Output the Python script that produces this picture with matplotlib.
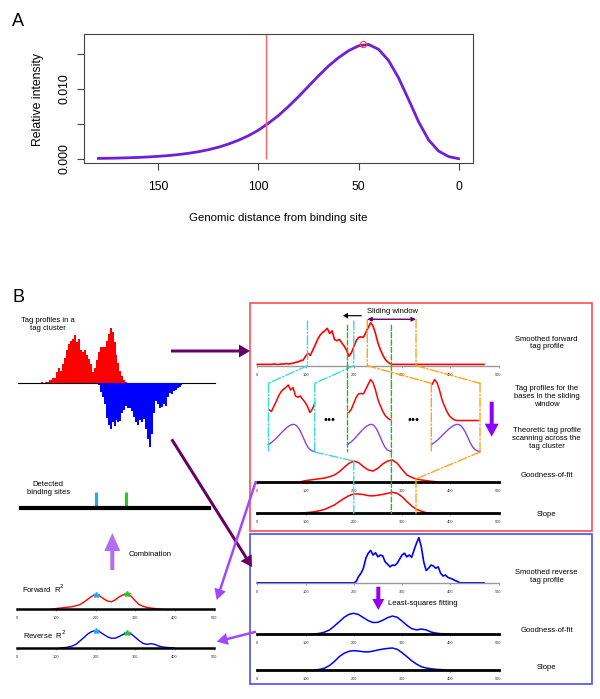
import numpy as np
import matplotlib
matplotlib.use("Agg")
import matplotlib.pyplot as plt
from matplotlib.patches import Rectangle, ConnectionPatch

plt.rcParams['font.family'] = ['Liberation Sans', 'DejaVu Sans']

# ---------------- data ----------------
# panel A: theoretic tag profile
dist = np.arange(180, -1, -5)
intensity = [0.00004, 0.00006, 0.00009, 0.00013, 0.00018, 0.00025, 0.00034, 0.00045,
             0.00059, 0.00077, 0.001, 0.00129, 0.00165, 0.0021, 0.00265, 0.0033,
             0.0041, 0.0051, 0.0062, 0.0075, 0.0089, 0.0104, 0.0119, 0.0133,
             0.0145, 0.0155, 0.0162, 0.0164, 0.0157, 0.0141, 0.0116, 0.0085,
             0.0053, 0.0027, 0.0011, 0.0003, 0.0]
peak_dist, peak_value = 48, 0.0164
cut_dist = 96

# panel B: tag profiles along the cluster (position 0..470, step 5)
pos = np.arange(0, 475, 5)
fwd_profile = [3, 3, 3, 3, 3, 3, 3, 4, 3, 3,
               4, 4, 5, 4, 5, 6, 8, 9, 12, 13,
               22, 29, 24, 36, 48, 61, 71, 77, 81, 87,
               75, 81, 61, 58, 61, 53, 46, 36, 22, 30,
               44, 58, 66, 67, 66, 77, 89, 100, 92, 75,
               53, 38, 25, 15, 9, 5, 3, 3, 3, 3,
               3, 3, 3, 3, 3, 3, 3, 3, 3, 3,
               3, 3, 3, 3, 3, 3, 3, 3, 3, 3,
               3, 3, 3, 3, 3, 3, 3, 3, 3, 3,
               3, 3, 3, 3, 3]
rev_profile = [1, 1, 1, 1, 1, 1, 1, 1, 1, 1,
               1, 1, 1, 1, 1, 1, 1, 1, 1, 1,
               1, 1, 1, 1, 1, 1, 1, 1, 1, 1,
               1, 1, 1, 1, 1, 1, 1, 1, 1, 1,
               1, 4, 15, 22, 33, 55, 66, 72, 62, 67,
               58, 62, 60, 47, 42, 36, 40, 39, 44, 53,
               62, 66, 58, 62, 57, 73, 88, 100, 80, 47,
               28, 33, 40, 38, 33, 36, 22, 16, 18, 13,
               11, 9, 6, 4, 1, 1, 1, 1, 1, 1,
               1, 1, 1, 1, 1]

gof_fwd_x = np.arange(90, 371, 10)
gof_fwd = [0, 5, 8, 11, 14, 17, 23, 31, 46, 66, 85, 95, 88, 69, 54, 49, 62, 82,
           95, 100, 85, 57, 31, 20, 12, 8, 5, 2, 0]
slope_fwd_x = np.arange(90, 361, 10)
slope_fwd = [0, 3, 5, 8, 13, 19, 29, 40, 56, 71, 84, 92, 92, 89, 84, 83, 86, 90,
             95, 100, 95, 79, 56, 35, 19, 10, 3, 0]
gof_rev_x = np.arange(110, 401, 10)
gof_rev = [0, 2, 5, 11, 21, 40, 60, 81, 95, 100, 94, 79, 65, 56, 57, 67, 79, 87,
           81, 63, 43, 27, 21, 25, 21, 11, 6, 3, 2, 0]
slope_rev_x = np.arange(120, 391, 10)
slope_rev = [0, 3, 9, 21, 39, 61, 76, 85, 88, 86, 83, 82, 86, 91, 95, 98, 100, 94,
             79, 61, 42, 27, 15, 9, 6, 3, 2, 0]

win_start = [104, 187, 228]
win_end = [200, 278, 329]
binding_sites = [200, 280]
axis_ticks = [0, 100, 200, 300, 400, 500]

# ---------------- layout helpers ----------------
W, H = 600, 699
fig = plt.figure(figsize=(6, 6.99), dpi=100)


def px_axes(x0, y0, x1, y1):
    return fig.add_axes([x0 / W, 1 - y1 / H, (x1 - x0) / W, (y1 - y0) / H])


def track(x0, x1, y_top, y_axis, ax_color, ax_lw):
    ax = px_axes(x0, y_top, x1, y_axis)
    ax.set_xlim(0, 500)
    ax.set_ylim(0, 100)
    for s in ('top', 'right', 'left'):
        ax.spines[s].set_visible(False)
    ax.spines['bottom'].set_color(ax_color)
    ax.spines['bottom'].set_linewidth(ax_lw)
    ax.set_yticks([])
    ax.set_xticks(axis_ticks)
    ax.tick_params(axis='x', length=1.5, width=0.4, color='#555555', pad=3.5,
                   labelsize=2.8, labelcolor='#333333')
    ax.patch.set_visible(False)
    return ax


def link(p, ax1, q, ax2, color, ls, **kw):
    fig.add_artist(ConnectionPatch(xyA=p, coordsA=ax1.transData, xyB=q,
                                   coordsB=ax2.transData, color=color, ls=ls,
                                   lw=1, **kw))


RED, BLUE = '#ff0000', '#0000ff'
CYAN, GREEN, ORANGE = '#33dddd', '#22bb22', '#ffa31a'
VIOLET, DARK = '#a347ff', '#660066'

# ---------------- panel A ----------------
axA = px_axes(84, 34, 473, 163)
axA.plot(dist, intensity, color='#6f1fd8', lw=2, solid_joinstyle='round')
axA.vlines(cut_dist, 0, 0.0179, color='#ff6060', lw=1)
axA.plot(peak_dist, peak_value, 'o', mfc='none', mec='#ff4040', ms=4.5, mew=0.8)
axA.set_xlim(187.2, -7.2)
axA.set_ylim(-0.00062, 0.0179)
axA.set_xticks([150, 100, 50, 0])
axA.set_yticks([0, 0.005, 0.010, 0.015])
axA.set_yticklabels(['0.000', '', '0.010', ''], rotation=90, va='center')
axA.tick_params(length=5, width=0.8, color='#444444', labelsize=8.7)
axA.tick_params(axis='x', pad=8)
axA.tick_params(axis='y', pad=5)
for s in axA.spines.values():
    s.set_color('#444444')
    s.set_linewidth(0.8)

# ---------------- panel B : left ----------------
hist_fwd = np.clip(np.array(fwd_profile) - 3, 0, None)
hist_rev = np.clip(np.array(rev_profile) - 1, 0, None)
ax_hf = px_axes(18, 327.7, 215, 383.3)
ax_hf.fill_between(pos, hist_fwd, step='mid', color=RED, lw=0)
ax_hf.set_xlim(0, 500)
ax_hf.set_ylim(0, hist_fwd.max())
for s in ('top', 'right', 'left'):
    ax_hf.spines[s].set_visible(False)
ax_hf.spines['bottom'].set_linewidth(0.8)
ax_hf.set_xticks([])
ax_hf.set_yticks([])
ax_hf.patch.set_visible(False)

ax_hr = px_axes(18, 383.3, 215, 446.7)
ax_hr.fill_between(pos, -hist_rev, 0, step='mid', color=BLUE, lw=0)
ax_hr.set_xlim(0, 500)
ax_hr.set_ylim(-hist_rev.max(), 0)
ax_hr.axis('off')

ax_bs = px_axes(20.7, 491.7, 209, 508.3)
ax_bs.set_xlim(0, 500)
ax_bs.set_ylim(0, 1)
ax_bs.vlines(binding_sites, 0, 1, colors=['#22aaee', '#22cc22'], lw=2.2)
for s in ('top', 'right', 'left'):
    ax_bs.spines[s].set_visible(False)
ax_bs.spines['bottom'].set_linewidth(3)
ax_bs.set_xticks([])
ax_bs.set_yticks([])
ax_bs.patch.set_visible(False)

ax_lf = track(16.7, 214, 594, 609.3, 'black', 1.8)
ax_lf.plot(gof_fwd_x, gof_fwd, color=RED, lw=1, clip_on=False)
ax_lr = track(16.7, 214, 630.7, 648, 'black', 1.8)
ax_lr.plot(gof_rev_x, gof_rev, color=BLUE, lw=1, clip_on=False)
for ax, gx, gy in ((ax_lf, gof_fwd_x, gof_fwd), (ax_lr, gof_rev_x, gof_rev)):
    vals = np.interp(binding_sites, gx, gy)
    ax.plot(binding_sites[0], vals[0], '*', color='#22aaee', ms=4, clip_on=False)
    ax.plot(binding_sites[1], vals[1], '*', color='#22cc22', ms=4, clip_on=False)

# ---------------- panel B : right ----------------
L, R = 257.3, 498.5
k = (R - L) / 500

ax_f = track(L, R, 322.7, 365.7, '#999999', 1.0)
ax_f.plot(pos, fwd_profile, color=RED, lw=1.2, clip_on=False)
ax_gf = track(L, R, 460, 481.7, 'black', 2.0)
ax_gf.plot(gof_fwd_x, gof_fwd, color=RED, lw=1.1, clip_on=False)
ax_sf = track(L, R, 492.3, 513.3, 'black', 2.0)
ax_sf.plot(slope_fwd_x, slope_fwd, color=RED, lw=1.1, clip_on=False)

ax_r = track(L, R, 537.7, 583.3, '#999999', 1.0)
ax_r.plot(pos, rev_profile, color=BLUE, lw=1.2, clip_on=False)
ax_gr = track(L, R, 613.3, 634.3, 'black', 2.0)
ax_gr.plot(gof_rev_x, gof_rev, color=BLUE, lw=1.1, clip_on=False)
ax_sr = track(L, R, 648, 670, 'black', 2.0)
ax_sr.plot(slope_rev_x, slope_rev, color=BLUE, lw=1.1, clip_on=False)

# sliding windows
fwd_arr = np.array(fwd_profile)
int_arr = np.array(intensity)
win_shift = [-39, 0, 64]
win_colors = [CYAN, GREEN, ORANGE]
win_ls = ['-.', '--', '-.']
guide_top = [104, 94, 108]
for i in range(3):
    s, e = win_start[i], win_end[i]
    x0 = L + k * s + win_shift[i]
    x1 = L + k * e + win_shift[i]
    axw = px_axes(x0, 379.5, x1, 420.5)
    m = (pos >= s) & (pos <= e)
    axw.plot(pos[m], fwd_arr[m], color=RED, lw=1.1, clip_on=False)
    axw.set_xlim(s, e)
    axw.set_ylim(fwd_arr.min(), fwd_arr.max())
    axw.axis('off')
    axt = px_axes(x0, 424.3, x1, 451.5)
    near = dist <= 100
    axt.plot(dist[near], int_arr[near], color='#8844dd', lw=1, clip_on=False)
    axt.set_xlim(100, 0)
    axt.set_ylim(0, int_arr.max())
    axt.axis('off')
    fr = px_axes(x0, 383.3, x1, 452)
    fr.set_xlim(s, e)
    fr.set_ylim(0, 1)
    fr.axis('off')

    c, ls = win_colors[i], win_ls[i]
    g = np.interp(e, gof_fwd_x, gof_fwd)
    link((s, guide_top[i]), ax_f, (s, 0), ax_f, c, ls)
    link((e, guide_top[i]), ax_f, (e, 0), ax_f, c, ls)
    link((s, 0), ax_f, (s, 1), fr, c, ls)
    link((e, 0), ax_f, (e, 1), fr, c, ls)
    link((s, 1), fr, (s, 0), fr, c, ls)
    link((e, 1), fr, (e, 0), fr, c, ls)
    link((e, 0), fr, (e, g), ax_gf, c, ls)
    link((e, g), ax_gf, (e, 0), ax_sf, c, ls)

link((win_start[2], 108), ax_f, (win_end[2], 108), ax_f, DARK, '-',
     arrowstyle='<|-|>', mutation_scale=6)

# ---------------- overlay: boxes, arrows, text ----------------
ov = fig.add_axes([0, 0, 1, 1], zorder=5)
ov.set_xlim(0, W)
ov.set_ylim(H, 0)
ov.axis('off')

ov.add_patch(Rectangle((250, 302.7), 341.7, 228, fill=False, ec='#ff4d4d', lw=1.2))
ov.add_patch(Rectangle((250, 534), 341.7, 150, fill=False, ec='#4d4dff', lw=1.2))


def block_arrow(x, y, x2, y2, color, w, hw, hl):
    ov.arrow(x, y, x2 - x, y2 - y, width=w, head_width=hw, head_length=hl,
             length_includes_head=True, color=color, lw=0)


block_arrow(171, 351, 250, 351, DARK, 3, 13, 11)
block_arrow(171.7, 439.3, 252, 567, DARK, 3, 13, 11)
block_arrow(256, 481, 216.7, 600, VIOLET, 2.5, 12, 11)
block_arrow(256, 631.7, 216.7, 641.7, VIOLET, 2.5, 12, 11)
block_arrow(112.3, 570, 112.3, 533, '#b56cf5', 4, 16, 18)
block_arrow(491.7, 401.7, 491.7, 436.7, '#8b00ff', 4, 14, 13)
block_arrow(378.3, 586.7, 378.3, 610, '#9900ee', 4, 12, 11)
block_arrow(361.7, 315.7, 343, 315.7, 'black', 1.2, 6, 5)

fs = 5.5
ov.text(12, 21, 'A', fontsize=13, va='center')
ov.text(12, 297, 'B', fontsize=13, va='center')
ov.text(278, 218, 'Genomic distance from binding site', ha='center', va='center', fontsize=8.2)
ov.text(38, 100, 'Relative intensity', rotation=90, ha='center', va='center', fontsize=8.8)

ov.text(48.3, 324.7, 'Tag profiles in a\ntag cluster', ha='center', va='center', fontsize=fs, linespacing=1.1)
ov.text(48.3, 488.7, 'Detected\nbinding sites', ha='center', va='center', fontsize=fs, linespacing=1.1)
ov.text(128.3, 554.3, 'Combination', va='center', fontsize=fs)
ov.text(21.7, 589, 'Forward  R$^2$', va='center', fontsize=fs)
ov.text(22.7, 635, 'Reverse  R$^2$', va='center', fontsize=fs)

ov.text(392.8, 311.7, 'Sliding window', ha='center', va='center', fontsize=fs)
ov.text(423, 603.3, 'Least-squares fitting', ha='center', va='center', fontsize=fs)
ov.text(330, 420, '\u2022\u2022\u2022', ha='center', va='center', fontsize=8)
ov.text(413.3, 420, '\u2022\u2022\u2022', ha='center', va='center', fontsize=8)

right_labels = [(343, 'Smoothed forward\ntag profile'),
                (396.7, 'Tag profiles for the\nbases in the sliding\nwindow'),
                (438.3, 'Theoretic tag profile\nscanning across the\ntag cluster'),
                (475.7, 'Goodness-of-fit'),
                (515, 'Slope'),
                (576.3, 'Smoothed reverse\ntag profile'),
                (630, 'Goodness-of-fit'),
                (667.7, 'Slope')]
for y, t in right_labels:
    ov.text(546.7, y, t, ha='center', va='center', fontsize=fs, linespacing=1.15)

fig.savefig('out.png', dpi=100)
